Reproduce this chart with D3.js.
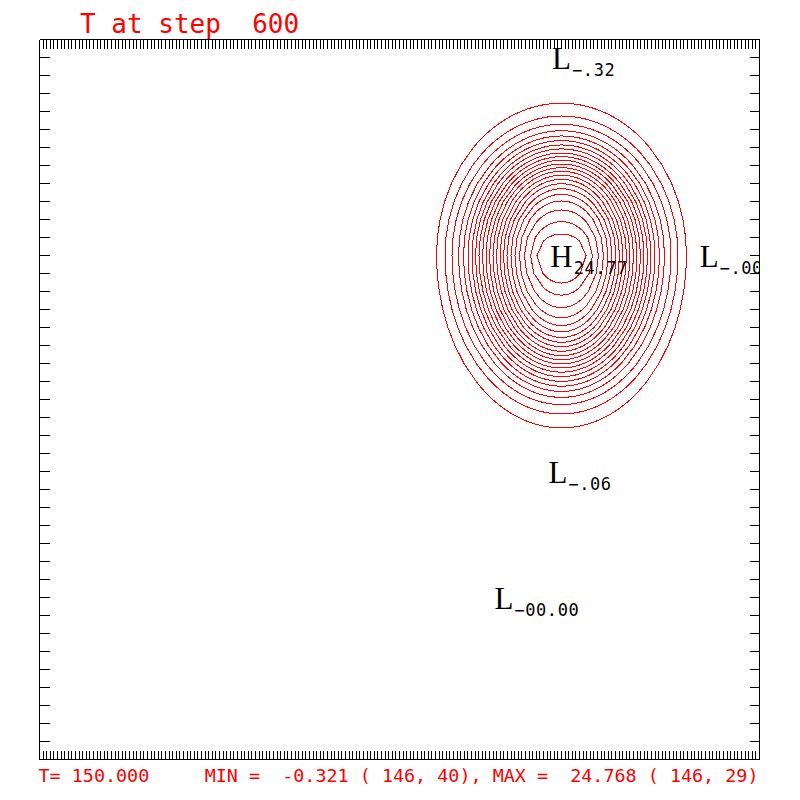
<!DOCTYPE html>
<html>
<head>
<meta charset="utf-8">
<script src="https://cdn.jsdelivr.net/npm/d3@7"></script>
<style>
  body { margin: 0; background: #fff; }
  svg { display: block; }
  text { white-space: pre; }
</style>
</head>
<body>
<div id="chart"></div>
<script>
// grid is 201 x 41 points, field peak sits at (146, 29)
var gridNx = 201, gridNy = 41;
var peakI = 146, peakJ = 29;

// contour rings, outermost first (grid units)
var ringLevels = [1, 2, 3, 4, 5, 6, 7, 8, 9, 10, 11, 12, 13, 14, 15, 16, 17, 18, 19, 20, 21, 22, 23];
var ringRx    = [34.72, 32.36, 30.42, 28.61, 27.22, 25.97, 24.86, 23.89, 22.92, 21.94, 20.97, 20.00,
                 19.03, 18.06, 17.08, 16.11, 15.14, 14.03, 12.92, 11.67, 10.28, 8.61, 6.81];
var ringRyTop = [8.46, 7.75, 7.29, 6.93, 6.64, 6.38, 6.14, 5.92, 5.69, 5.49, 5.29, 5.08,
                 4.88, 4.68, 4.46, 4.23, 3.99, 3.71, 3.40, 3.03, 2.53, 1.88, 1.19];
var ringRyBot = [9.58, 8.80, 8.28, 7.88, 7.55, 7.26, 6.99, 6.73, 6.48, 6.25, 6.02, 5.79,
                 5.56, 5.32, 5.07, 4.82, 4.55, 4.24, 3.89, 3.46, 2.90, 2.20, 1.53];

// H / L markers
var labelKind = ["L", "H", "L", "L", "L"];
var labelI    = [146, 146, 187, 145, 130];
var labelJ    = [40, 29, 29, 17, 10];
var labelSub  = ["\u2212.32", "24.77", "\u2212.00", "\u2212.06", "\u221200.00"];

// title / footer values
var fieldName = "T", stepNum = 600, timeVal = "150.000";
var minVal = "-0.321", minAt = [146, 40];
var maxVal = "24.768", maxAt = [146, 29];

var W = 800, H = 800;
var svg = d3.select("#chart").append("svg")
    .attr("width", W)
    .attr("height", H);

var x = d3.scaleLinear().domain([1, gridNx]).range([39.5, 759.5]);
var y = d3.scaleLinear().domain([1, gridNy]).range([759.5, 39.5]);
var ux = x(2) - x(1), uy = y(1) - y(2);   // pixels per grid step

svg.append("clipPath").attr("id", "box")
  .append("rect")
    .attr("x", 39.5).attr("y", 39.5)
    .attr("width", 720).attr("height", 720);

// contours
var line = d3.line()
    .x(function(d) { return x(d[0]); })
    .y(function(d) { return y(d[1]); })
    .curve(d3.curveLinearClosed);

// vertices where the ring crosses grid rows (steep parts) and grid columns (flat parts)
function ringPoints(k) {
  var rx = ringRx[k], rt = ringRyTop[k], rb = ringRyBot[k];
  var pts = [];
  for (var j = Math.floor(peakJ - rb); j <= Math.ceil(peakJ + rt); j++) {
    var dj = j - peakJ;
    if (dj >= rt || -dj >= rb) continue;
    var ry = dj >= 0 ? rt : rb;
    var t = dj / ry;
    var dx = rx * Math.sqrt(1 - t * t);
    pts.push([peakI - dx, j], [peakI + dx, j]);
  }
  for (var i = Math.ceil(peakI - rx); i <= Math.floor(peakI + rx); i++) {
    var s = (i - peakI) / rx;
    if (Math.abs(s) >= 1) continue;
    var c = Math.sqrt(1 - s * s);
    [rt, rb].forEach(function(ry, side) {
      var slope = (ry * uy) / (rx * ux) * Math.abs(s) / c;
      if (slope < 1.2) pts.push([i, side === 0 ? peakJ + ry * c : peakJ - ry * c]);
    });
  }
  pts.sort(function(a, b) {
    return Math.atan2(y(a[1]) - y(peakJ), x(a[0]) - x(peakI)) -
           Math.atan2(y(b[1]) - y(peakJ), x(b[0]) - x(peakI));
  });
  return pts;
}

svg.append("g")
    .attr("clip-path", "url(#box)")
  .selectAll("path")
  .data(ringLevels)
  .enter()
  .append("path")
    .attr("d", function(d, k) { return line(ringPoints(k)); })
    .attr("fill", "none")
    .attr("stroke", "#ff0000")
    .attr("stroke-width", 1)
    .attr("shape-rendering", "crispEdges");

// frame with inward ticks on all four sides
var xTicks = d3.range(1, gridNx + 1), yTicks = d3.range(1, gridNy + 1);

function frame(axis, tx, ty) {
  var g = svg.append("g")
      .attr("transform", "translate(" + tx + "," + ty + ")")
      .call(axis.tickFormat("").tickSizeOuter(0).offset(0));
  g.selectAll("line, path")
      .attr("stroke", "#000")
      .attr("stroke-width", 1)
      .attr("shape-rendering", "crispEdges");
}
frame(d3.axisBottom(x).tickValues(xTicks).tickSize(9), 0, 39.5);
frame(d3.axisTop(x).tickValues(xTicks).tickSize(9), 0, 759.5);
frame(d3.axisRight(y).tickValues(yTicks).tickSize(10), 39.5, 0);
frame(d3.axisLeft(y).tickValues(yTicks).tickSize(10), 759.5, 0);

// H / L markers
var labels = svg.append("g")
    .attr("clip-path", "url(#box)")
  .selectAll("text")
  .data(labelKind)
  .enter()
  .append("text")
    .attr("x", function(d, k) { return x(labelI[k]); })
    .attr("y", function(d, k) { return y(labelJ[k]) + 11; })
    .attr("fill", "#000");

labels.append("tspan")
    .attr("class", "letter")
    .style("font-family", "'Liberation Serif', 'DejaVu Serif', serif")
    .style("font-size", "31px")
    .text(function(d) { return d; });

labels.append("tspan")
    .attr("dy", 7)
    .attr("dx", 1)
    .style("font-family", "'DejaVu Sans Mono', monospace")
    .style("font-size", "17px")
    .style("letter-spacing", "0.6px")
    .text(function(d, k) { return labelSub[k]; });

// centre the big letter on its grid point
labels.each(function() {
  var t = d3.select(this);
  var w = t.select(".letter").node().getComputedTextLength();
  t.attr("x", +t.attr("x") - w / 2);
});

// title and footer
svg.append("text")
    .attr("x", 80)
    .attr("y", 33)
    .attr("fill", "#ff0000")
    .style("font-family", "'DejaVu Sans Mono', monospace")
    .style("font-size", "26px")
    .text(fieldName + " at step  " + stepNum);

var footer = fieldName + "= " + timeVal + "     MIN =  " + minVal +
    " ( " + minAt[0] + ", " + minAt[1] + "), MAX =  " + maxVal +
    " ( " + maxAt[0] + ", " + maxAt[1] + ")";

svg.append("text")
    .attr("x", 38.5)
    .attr("y", 782)
    .attr("fill", "#ff0000")
    .attr("textLength", 720)
    .attr("lengthAdjust", "spacing")
    .style("font-family", "'DejaVu Sans Mono', monospace")
    .style("font-size", "18.4px")
    .text(footer);
</script>
</body>
</html>
